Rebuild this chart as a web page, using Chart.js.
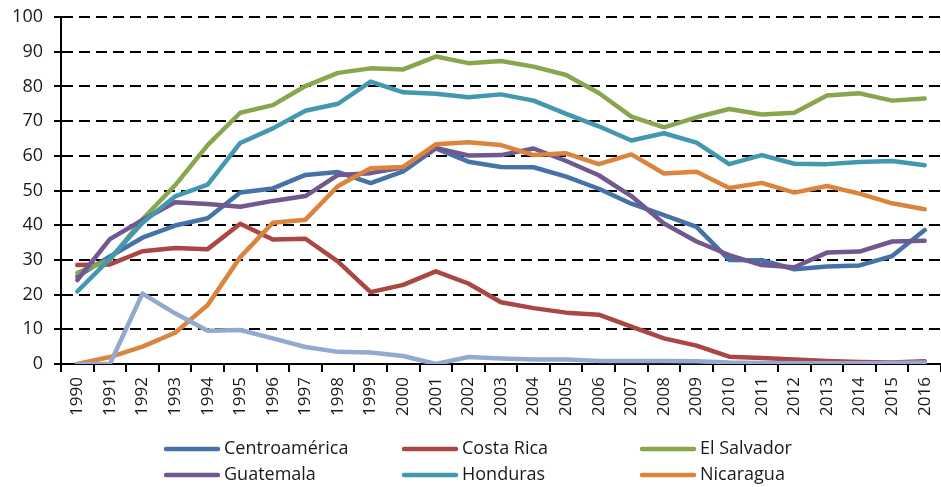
<!DOCTYPE html>
<html>
<head>
<meta charset="utf-8">
<script src="https://cdn.jsdelivr.net/npm/chart.js@4.4.1/dist/chart.umd.min.js"></script>
<style>
  html, body { margin: 0; padding: 0; background: #ffffff; }
  #wrap { width: 941px; height: 487px; }
</style>
</head>
<body>
<div id="wrap"><canvas id="c" width="941" height="487"></canvas></div>
<script>
const years = ['1990','1991','1992','1993','1994','1995','1996','1997','1998','1999','2000','2001','2002','2003','2004','2005','2006','2007','2008','2009','2010','2011','2012','2013','2014','2015','2016'];

const centroamerica = [25.2, 31, 36.4, 39.9, 42, 49.4, 50.6, 54.5, 55.3, 52.1, 55.5, 62.1, 58.3, 56.8, 56.7, 54, 50.5, 46.2, 42.9, 39.5, 30, 29.9, 27.3, 28.1, 28.4, 31.1, 38.6];
const costaRica     = [28.5, 28.7, 32.5, 33.4, 33.1, 40.4, 35.9, 36.1, 29.5, 20.7, 22.8, 26.7, 23.2, 17.8, 16.1, 14.8, 14.2, 10.8, 7.4, 5.3, 2.1, 1.7, 1.3, 0.9, 0.6, 0.4, 0.8];
const elSalvador    = [26.3, 30, 41.7, 51.5, 63.1, 72.4, 74.6, 80.1, 83.9, 85.2, 84.9, 88.6, 86.7, 87.3, 85.7, 83.3, 78.1, 71.3, 68.2, 71.1, 73.5, 71.9, 72.4, 77.4, 78, 75.9, 76.5];
const guatemala     = [24.2, 36, 41.5, 46.6, 46.1, 45.3, 47, 48.4, 54.5, 55, 56.7, 62.3, 60.1, 60.2, 62.1, 58.5, 54.4, 48.4, 40.5, 35.3, 31.4, 28.5, 27.9, 32.1, 32.4, 35.3, 35.5];
const honduras      = [20.9, 30.3, 40.7, 48.3, 51.7, 63.7, 67.9, 73, 75, 81.4, 78.3, 77.9, 76.9, 77.7, 75.9, 72.1, 68.5, 64.4, 66.5, 63.8, 57.6, 60.2, 57.7, 57.6, 58.2, 58.5, 57.3];
const nicaragua     = [0, 2, 5, 9, 17, 30.8, 40.7, 41.6, 51.3, 56.4, 56.8, 63.3, 63.9, 63.1, 60.2, 60.7, 57.6, 60.4, 54.9, 55.4, 50.7, 52.2, 49.4, 51.3, 49.1, 46.3, 44.6];
const panama        = [0, 0, 20.3, 14.6, 9.6, 9.8, 7.4, 4.9, 3.5, 3.3, 2.3, 0, 2, 1.6, 1.3, 1.3, 0.9, 0.9, 0.9, 0.8, 0.4, 0.3, 0.2, 0.2, 0.2, 0.3, 0.4];

const seriesNames  = ['Centroamérica', 'Costa Rica', 'El Salvador', 'Guatemala', 'Honduras', 'Nicaragua', 'Panamá'];
const seriesValues = [centroamerica, costaRica, elSalvador, guatemala, honduras, nicaragua, panama];
const seriesColors = ['#4572A7', '#AA4643', '#89A54E', '#71588F', '#4198AF', '#DB843D', '#93A9CF'];
const legendCount = 6; // only the first six appear in the visible legend

const FONT = '"Open Sans", "Noto Sans", sans-serif';

const datasets = seriesNames.map((name, i) => ({
  label: name,
  data: seriesValues[i],
  borderColor: seriesColors[i],
  backgroundColor: seriesColors[i],
  borderWidth: 4.5,
  pointRadius: 0,
  pointHoverRadius: 0,
  tension: 0,
  fill: false,
  borderJoinStyle: 'round',
  borderCapStyle: 'round',
  order: seriesNames.length - i
}));

const gridLegend = {
  id: 'gridLegend',
  afterDraw(chart) {
    const ctx = chart.ctx;
    ctx.save();
    ctx.font = '18px ' + FONT;
    ctx.textBaseline = 'middle';
    ctx.textAlign = 'left';
    for (let i = 0; i < legendCount; i++) {
      const ds = chart.data.datasets[i];
      const col = i % 3, row = Math.floor(i / 3);
      const x = 166 + col * 238;
      const y = 449 + row * 26;
      ctx.strokeStyle = ds.borderColor;
      ctx.lineWidth = 4.5;
      ctx.lineCap = 'round';
      ctx.beginPath();
      ctx.moveTo(x, y);
      ctx.lineTo(x + 52, y);
      ctx.stroke();
      ctx.fillStyle = '#1a1a1a';
      ctx.fillText(ds.label, x + 58, y);
    }
    ctx.restore();
  }
};

new Chart(document.getElementById('c'), {
  type: 'line',
  data: { labels: years, datasets },
  plugins: [gridLegend],
  options: {
    responsive: false,
    animation: false,
    layout: { padding: { top: 17, left: 0, right: -4, bottom: 0 } },
    plugins: {
      legend: { display: false },
      title: { display: false },
      tooltip: { enabled: false }
    },
    scales: {
      x: {
        type: 'category',
        offset: true,
        grid: {
          display: true,
          offset: true,
          drawOnChartArea: false,
          drawTicks: true,
          tickLength: 8,
          color: '#000000',
          lineWidth: 2
        },
        border: { display: true, color: '#000000', width: 2 },
        ticks: {
          autoSkip: false,
          maxRotation: 90,
          minRotation: 90,
          padding: 5,
          color: '#1a1a1a',
          font: { family: FONT, size: 17 }
        },
        afterFit(scale) {
          scale.paddingLeft = 0;
          scale.paddingRight = 0;
          scale.height = 123;
        }
      },
      y: {
        min: 0,
        max: 100,
        ticks: {
          stepSize: 10,
          padding: 11,
          color: '#1a1a1a',
          font: { family: FONT, size: 18 }
        },
        grid: {
          color: '#000000',
          lineWidth: 2,
          tickLength: 7,
          drawTicks: true
        },
        border: { display: true, color: '#000000', width: 2, dash: [11, 6] },
        afterFit(scale) {
          scale.width = 61;
          scale.paddingTop = 0;
          scale.paddingBottom = 0;
        }
      }
    }
  }
});
</script>
</body>
</html>
